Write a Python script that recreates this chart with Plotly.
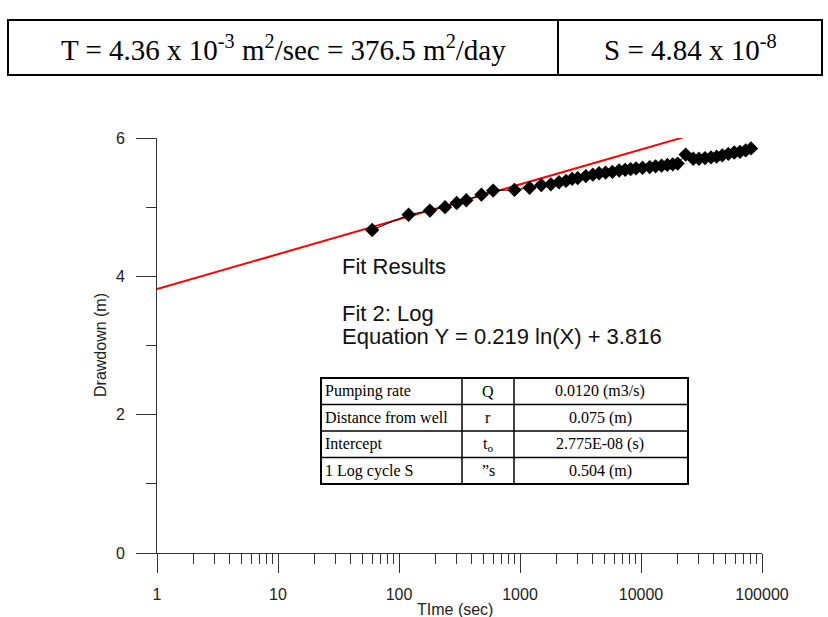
import numpy as np
import plotly.graph_objects as go

# ---------------- data ----------------
time_s = [60, 120, 180, 240, 300, 360, 480, 600, 900, 1200, 1500, 1800, 2100,
          2400, 2700, 3000, 3500, 4000, 4500, 5100, 5800, 6600, 7400, 8200,
          9100, 10300, 11800, 13200, 14800, 16500, 18300, 20100,
          23400, 27000, 30100, 33800, 37900, 42200, 47000, 52700, 59000,
          65800, 73300, 81100]
drawdown_m = [4.67, 4.89, 4.95, 5.00, 5.06, 5.10, 5.18, 5.24, 5.25, 5.28, 5.32,
              5.33, 5.36, 5.38, 5.41, 5.42, 5.45, 5.47, 5.49, 5.50, 5.51, 5.53,
              5.54, 5.55, 5.56, 5.57, 5.58, 5.59, 5.60, 5.61, 5.62, 5.63,
              5.76, 5.70, 5.70, 5.71, 5.72, 5.73, 5.75, 5.77, 5.79, 5.80, 5.82,
              5.85]

fit_slope = 0.219
fit_intercept = 3.816
fit_t_range = [1, 22000]

x_tick_vals = [1, 10, 100, 1000, 10000, 100000]
x_tick_text = ["1", "10", "100", "1000", "10000", "100000"]
y_tick_vals = [0, 2, 4, 6]

table_rows = [
    ["Pumping rate", "Q", "0.0120 (m3/s)"],
    ["Distance from well", "r", "0.075 (m)"],
    ["Intercept", "t<sub>o</sub>", "2.775E-08 (s)"],
    ["1 Log cycle S", "\u201ds", "0.504 (m)"],
]
header_cells = [
    "T = 4.36 x 10<sup>-3</sup> m<sup>2</sup>/sec = 376.5 m<sup>2</sup>/day",
    "S = 4.84 x 10<sup>-8</sup>",
]

# ---------------- geometry helpers (pixel -> paper) ----------------
W, H = 828, 617
L, R, T, B = 157, 762, 138, 553


def px(xpix):
    return (xpix - L) / (R - L)


def py(ypix):
    return (B - ypix) / (B - T)


fig = go.Figure()

# fit line
fit_t = np.logspace(np.log10(fit_t_range[0]), np.log10(fit_t_range[1]), 50)
fit_y = fit_slope * np.log(fit_t) + fit_intercept
fig.add_trace(go.Scatter(x=fit_t, y=fit_y, mode="lines",
                         line=dict(color="#ff0000", width=2),
                         showlegend=False, hoverinfo="skip"))

# data
fig.add_trace(go.Scatter(x=time_s, y=drawdown_m, mode="lines+markers",
                         line=dict(color="black", width=1),
                         marker=dict(symbol="diamond", size=11, color="black"),
                         showlegend=False))

axis_col = "#333333"
sans = "Liberation Sans, Arial"
serif = "Liberation Serif, Times New Roman"
fig.update_xaxes(type="log", range=[0, 5], showgrid=False, zeroline=False,
                 automargin=False,
                 showline=True, linecolor=axis_col, linewidth=1,
                 tickvals=x_tick_vals, ticktext=x_tick_text,
                 ticks="outside", ticklen=19, tickcolor=axis_col, tickwidth=1,
                 ticklabelstandoff=8,
                 minor=dict(ticks="outside", ticklen=10, tickcolor=axis_col,
                            tickwidth=1, dtick="D1", showgrid=False),
                 tickfont=dict(family=sans, size=16, color="#222"))
fig.update_yaxes(range=[0, 6], showgrid=False, zeroline=False,
                 automargin=False,
                 showline=True, linecolor=axis_col, linewidth=1,
                 tickvals=y_tick_vals,
                 ticks="outside", ticklen=20, tickcolor=axis_col, tickwidth=1,
                 ticklabelstandoff=8,
                 minor=dict(ticks="outside", ticklen=10, tickcolor=axis_col,
                            tickwidth=1, dtick=1, showgrid=False),
                 tickfont=dict(family=sans, size=16, color="#222"))

shapes = []
annotations = []

# axis titles as annotations (fixed positions)
annotations.append(dict(xref="paper", yref="paper", x=px(455), y=py(609),
                        text="TIme (sec)", showarrow=False,
                        xanchor="center", yanchor="middle",
                        font=dict(family=sans, size=16, color="#222")))
annotations.append(dict(xref="paper", yref="paper", x=px(100), y=py(345),
                        text="Drawdown (m)", showarrow=False, textangle=-90,
                        xanchor="center", yanchor="middle",
                        font=dict(family=sans, size=16, color="#222")))

# header table
hx0, hx1, hsep, hy0, hy1 = 8, 822, 558, 20, 75
shapes.append(dict(type="rect", xref="paper", yref="paper",
                   x0=px(hx0), x1=px(hx1), y0=py(hy1), y1=py(hy0),
                   line=dict(color="black", width=2)))
shapes.append(dict(type="line", xref="paper", yref="paper",
                   x0=px(hsep), x1=px(hsep), y0=py(hy1), y1=py(hy0),
                   line=dict(color="black", width=2)))
annotations.append(dict(xref="paper", yref="paper", x=px((hx0 + hsep) / 2), y=py(48),
                        text=header_cells[0], showarrow=False,
                        xanchor="center", yanchor="middle",
                        font=dict(family=serif, size=29, color="black")))
annotations.append(dict(xref="paper", yref="paper", x=px((hsep + hx1) / 2), y=py(48),
                        text=header_cells[1], showarrow=False,
                        xanchor="center", yanchor="middle",
                        font=dict(family=serif, size=29, color="black")))

# fit results text
fit_font = dict(family=sans, size=22, color="#111")
for txt, yy in [("Fit Results", 266), ("Fit 2: Log", 313),
                (f"Equation Y = {fit_slope} ln(X) + {fit_intercept}", 336)]:
    annotations.append(dict(xref="paper", yref="paper", x=px(340), y=py(yy),
                            text=txt, showarrow=False, xanchor="left",
                            yanchor="middle", font=fit_font))

# inner table
tx0, tx1 = 321, 688
col_x = [321, 462, 514, 688]
row_y = [378, 404.5, 431, 457.5, 484]
shapes.append(dict(type="rect", xref="paper", yref="paper",
                   x0=px(tx0), x1=px(tx1), y0=py(row_y[-1]), y1=py(row_y[0]),
                   line=dict(color="black", width=2), fillcolor="white", layer="below"))
for cx in col_x[1:-1]:
    shapes.append(dict(type="line", xref="paper", yref="paper",
                       x0=px(cx), x1=px(cx), y0=py(row_y[-1]), y1=py(row_y[0]),
                       line=dict(color="black", width=1.5)))
for ry in row_y[1:-1]:
    shapes.append(dict(type="line", xref="paper", yref="paper",
                       x0=px(tx0), x1=px(tx1), y0=py(ry), y1=py(ry),
                       line=dict(color="black", width=1.5)))
tfont = dict(family=serif, size=16, color="black")
for i, row in enumerate(table_rows):
    yc = (row_y[i] + row_y[i + 1]) / 2
    annotations.append(dict(xref="paper", yref="paper", x=px(323), y=py(yc),
                            text=row[0], showarrow=False, xanchor="left",
                            yanchor="middle", font=tfont))
    annotations.append(dict(xref="paper", yref="paper", x=px((col_x[1] + col_x[2]) / 2),
                            y=py(yc), text=row[1], showarrow=False,
                            xanchor="center", yanchor="middle", font=tfont))
    annotations.append(dict(xref="paper", yref="paper", x=px(600), y=py(yc),
                            text=row[2], showarrow=False, xanchor="center",
                            yanchor="middle", font=tfont))

fig.update_layout(width=W, height=H,
                  margin=dict(l=L, r=W - R, t=T, b=H - B),
                  paper_bgcolor="white", plot_bgcolor="white",
                  shapes=shapes, annotations=annotations,
                  showlegend=False)

fig.write_html("out.html")
